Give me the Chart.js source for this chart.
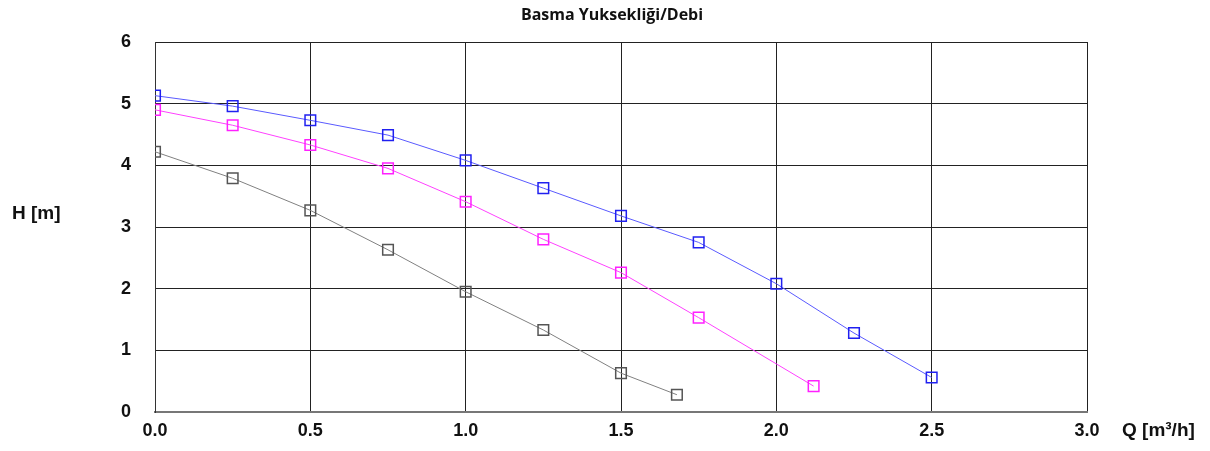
<!DOCTYPE html>
<html>
<head>
<meta charset="utf-8">
<script src="https://cdn.jsdelivr.net/npm/chart.js@4/dist/chart.umd.min.js"></script>
<style>
  html, body { margin: 0; padding: 0; background: #fff; }
  #wrap { width: 1210px; height: 451px; }
</style>
</head>
<body>
<div id="wrap"><canvas id="pumpChart" width="1210" height="451"></canvas></div>
<script>
// Eğri verileri (Q m³/h, H m)
const qBlue = [0, 0.25, 0.5, 0.75, 1.0, 1.25, 1.5, 1.75, 2.0, 2.25, 2.5];
const hBlue = [5.13, 4.96, 4.73, 4.49, 4.08, 3.63, 3.18, 2.75, 2.08, 1.28, 0.56];

const qPink = [0, 0.25, 0.5, 0.75, 1.0, 1.25, 1.5, 1.75, 2.12];
const hPink = [4.90, 4.65, 4.33, 3.95, 3.41, 2.80, 2.26, 1.53, 0.42];

const qGray = [0, 0.25, 0.5, 0.75, 1.0, 1.25, 1.5, 1.68];
const hGray = [4.22, 3.79, 3.27, 2.63, 1.95, 1.33, 0.63, 0.28];

const xTicks = [0, 0.5, 1.0, 1.5, 2.0, 2.5, 3.0];
const yTicks = [0, 1, 2, 3, 4, 5, 6];

const title = 'Basma Yuksekliği/Debi';
const yTitle = 'H [m]';
const xTitle = 'Q [m³/h]';

const tickFont = { family: '"Liberation Sans", Arial, sans-serif', size: 18, weight: 'bold' };

function toPoints(xs, ys) {
  return xs.map((x, i) => ({ x: x, y: ys[i] }));
}

function series(xs, ys, lineColor, markColor) {
  return {
    data: toPoints(xs, ys),
    borderColor: lineColor,
    borderWidth: 1,
    pointStyle: 'rect',
    pointRadius: 7.5,
    pointBorderWidth: 1.5,
    pointBorderColor: markColor,
    pointBackgroundColor: 'rgba(0,0,0,0)',
    tension: 0,
    fill: false
  };
}

// Başlık ve eksen yazıları
const labelsPlugin = {
  id: 'labels',
  afterDraw(chart) {
    const c = chart.ctx;
    c.save();
    c.fillStyle = '#111';
    c.textBaseline = 'middle';
    c.font = 'bold 16px "Open Sans", sans-serif';
    c.textAlign = 'center';
    c.fillText(title, 612, 15);
    c.font = 'bold 19px "Liberation Sans", Arial, sans-serif';
    c.textAlign = 'left';
    c.fillText(yTitle, 12, 214);
    c.fillText(xTitle, 1122, 431);
    c.restore();
  }
};

const ctx = document.getElementById('pumpChart').getContext('2d');
const chart = new Chart(ctx, {
  type: 'line',
  data: {
    datasets: [
      series(qBlue, hBlue, '#5a5aff', '#2020f0'),
      series(qPink, hPink, '#ff40ff', '#ff20ff'),
      series(qGray, hGray, '#808080', '#555555')
    ]
  },
  options: {
    responsive: false,
    animation: false,
    layout: { padding: { top: 42, right: 123, left: 0, bottom: 0 } },
    plugins: {
      legend: { display: false },
      title: { display: false },
      tooltip: { enabled: false }
    },
    scales: {
      x: {
        type: 'linear',
        min: 0,
        max: 3,
        afterBuildTicks: axis => { axis.ticks = xTicks.map(v => ({ value: v })); },
        afterFit: axis => { axis.height = 39; },
        ticks: {
          color: '#111',
          font: tickFont,
          padding: 8,
          callback: v => v.toFixed(1)
        },
        grid: { color: '#222', lineWidth: 1, drawTicks: false },
        border: { color: '#777', width: 2 }
      },
      y: {
        min: 0,
        max: 6,
        afterBuildTicks: axis => { axis.ticks = yTicks.map(v => ({ value: v })); },
        afterFit: axis => { axis.width = 155; },
        ticks: {
          color: '#111',
          font: tickFont,
          padding: 24,
          callback: v => String(v)
        },
        grid: { color: '#222', lineWidth: 1, drawTicks: false },
        border: { color: '#333', width: 1 }
      }
    }
  },
  plugins: [labelsPlugin]
});
</script>
</body>
</html>
